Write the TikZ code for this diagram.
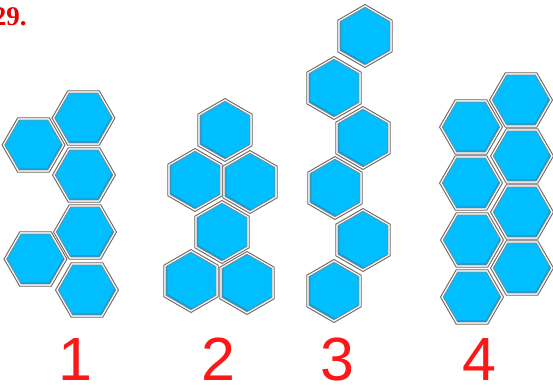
\documentclass[tikz,border=0pt]{standalone}
\usepackage{fontspec}
\newfontfamily\titlefont{Liberation Serif Bold}
\newfontfamily\labelfont{Liberation Sans}
\definecolor{hexblue}{RGB}{0,190,255}
\definecolor{hexshade}{RGB}{18,155,212}
\definecolor{framegray}{RGB}{105,105,105}
\definecolor{framefill}{RGB}{238,238,238}
\definecolor{innergray}{RGB}{135,135,135}
\definecolor{labelred}{RGB}{255,22,22}
\definecolor{titlered}{RGB}{235,0,0}
\newcommand\hexpath[2]{(#1:#2) -- (#1+60:#2) -- (#1+120:#2) -- (#1+180:#2) -- (#1+240:#2) -- (#1+300:#2) -- cycle}
% #1 cx, #2 cy, #3 angle offset, #4 #5 highlight shift
\newcommand\hexcell[5]{%
  \begin{scope}[shift={(#1,#2)}]
    \filldraw[fill=framefill, draw=framegray, line width=0.9pt] \hexpath{#3}{31.5};
    \fill[white] \hexpath{#3}{30.2};
    \begin{scope}
      \clip \hexpath{#3}{28.8};
      \fill[hexshade] (-40,-40) rectangle (40,40);
      \begin{scope}[shift={(#4,#5)}]
        \fill[hexblue] \hexpath{#3}{28.8};
      \end{scope}
    \end{scope}
    \draw[innergray, line width=0.7pt] \hexpath{#3}{28.8};
  \end{scope}}
\newcommand\flathex[2]{\hexcell{#1}{#2}{0}{-1}{-1.6}}
\newcommand\pointhex[2]{\hexcell{#1}{#2}{30}{1.2}{-1.6}}
\tikzset{
  digitlabel/.style={anchor=base, inner sep=0pt, text=labelred,
    font=\labelfont\fontsize{61}{61}\selectfont}
}
\begin{document}
\begin{tikzpicture}[x=1pt,y=-1pt]
\useasboundingbox (0,0) rectangle (553,386);
\fill[white] (0,0) rectangle (553,386);
% title
\node[anchor=base west, inner sep=0pt, text=titlered,
  font=\titlefont\fontsize{27}{27}\selectfont] (title) at (-7.3,25.5) {29.};
% figure 1
\flathex{33.5}{145}
\flathex{35.5}{259}
\flathex{83.5}{118}
\flathex{84}{175}
\flathex{85}{232}
\flathex{87}{290}
% figure 2
\pointhex{225}{130}
\pointhex{195}{180}
\pointhex{250}{182}
\pointhex{222}{232}
\pointhex{191}{281}
\pointhex{247}{283}
% figure 3
\pointhex{365}{36}
\pointhex{334}{88}
\pointhex{363}{138}
\pointhex{335}{188}
\pointhex{363}{240}
\pointhex{334}{291}
% figure 4
\flathex{471}{127}
\flathex{471}{183}
\flathex{472}{240}
\flathex{472}{297}
\flathex{521}{100}
\flathex{522}{156}
\flathex{522}{212}
\flathex{522}{268}
% labels
\node[digitlabel] (l1) at (75,380) {1};
\node[digitlabel] (l2) at (218,380) {2};
\node[digitlabel] (l3) at (337,380) {3};
\node[digitlabel] (l4) at (479,380) {4};
\end{tikzpicture}
\end{document}
